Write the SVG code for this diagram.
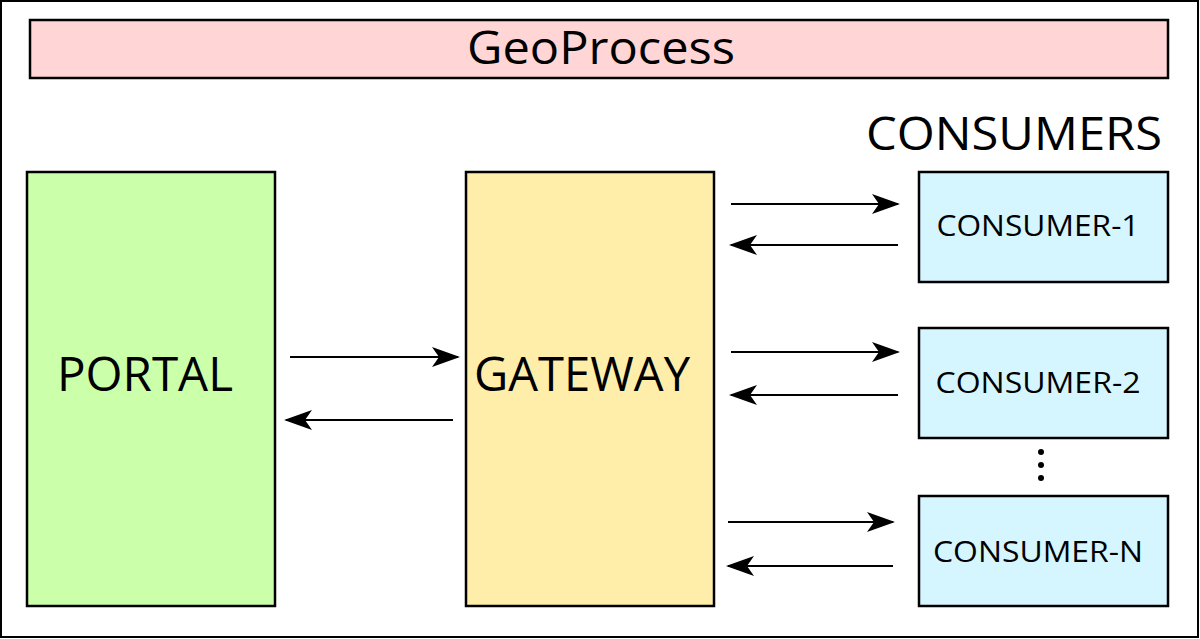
<svg xmlns="http://www.w3.org/2000/svg" width="1200" height="639" viewBox="0 0 1200 639">
<style>
.box{stroke:#000;stroke-width:2.5}
.t{font-family:"Open Sans","Noto Sans",sans-serif;fill:#000;text-anchor:middle}
.c{stroke:#000;stroke-width:2;fill:none;marker-end:url(#ah)}
</style>
<defs>
<marker id="ah" viewBox="0 0 28 20" refX="26" refY="10" markerWidth="28" markerHeight="20" markerUnits="userSpaceOnUse" orient="auto">
<path d="M0,0 L28,10 L0,20 L7,10 Z" fill="#000"/>
</marker>
</defs>
<rect x="1" y="1" width="1197" height="636" fill="#fff" stroke="#000" stroke-width="2"/>
<g id="geoprocess"><rect class="box" x="30" y="20" width="1138" height="58" fill="#ffd5d5"/><text class="t" x="601" y="64" font-size="45" textLength="268" lengthAdjust="spacingAndGlyphs">GeoProcess</text></g>
<g id="portal"><rect class="box" x="27" y="172" width="248" height="434" fill="#ccffaa"/><text class="t" x="145" y="391" font-size="47" textLength="176" lengthAdjust="spacingAndGlyphs">PORTAL</text></g>
<g id="gateway"><rect class="box" x="466" y="172" width="248" height="434" fill="#ffeeaa"/><text class="t" x="582" y="391" font-size="47" textLength="216" lengthAdjust="spacingAndGlyphs">GATEWAY</text></g>
<g id="consumers-label"><text class="t" x="1014" y="150" font-size="45" textLength="296" lengthAdjust="spacingAndGlyphs">CONSUMERS</text></g>
<g id="consumer1"><rect class="box" x="919" y="172" width="249" height="110" fill="#d5f6ff"/><text class="t" x="1038" y="236" font-size="29" textLength="203" lengthAdjust="spacingAndGlyphs">CONSUMER-1</text></g>
<g id="consumer2"><rect class="box" x="919" y="328" width="249" height="110" fill="#d5f6ff"/><text class="t" x="1038" y="393" font-size="29" textLength="205" lengthAdjust="spacingAndGlyphs">CONSUMER-2</text></g>
<g id="consumerN"><rect class="box" x="919" y="496" width="249" height="110" fill="#d5f6ff"/><text class="t" x="1038" y="562" font-size="29" textLength="210" lengthAdjust="spacingAndGlyphs">CONSUMER-N</text></g>
<g id="dots" fill="#000"><circle cx="1041" cy="452" r="3"/><circle cx="1041" cy="465" r="3"/><circle cx="1041" cy="478" r="3"/></g>
<g id="connectors">
<line class="c" x1="290" y1="357" x2="458" y2="357"/>
<line class="c" x1="453" y1="420" x2="286" y2="420"/>
<line class="c" x1="731" y1="204" x2="898" y2="204"/>
<line class="c" x1="898" y1="245" x2="731" y2="245"/>
<line class="c" x1="731" y1="352" x2="898" y2="352"/>
<line class="c" x1="898" y1="395" x2="731" y2="395"/>
<line class="c" x1="728" y1="522" x2="893" y2="522"/>
<line class="c" x1="893" y1="566" x2="728" y2="566"/>
</g>
</svg>
